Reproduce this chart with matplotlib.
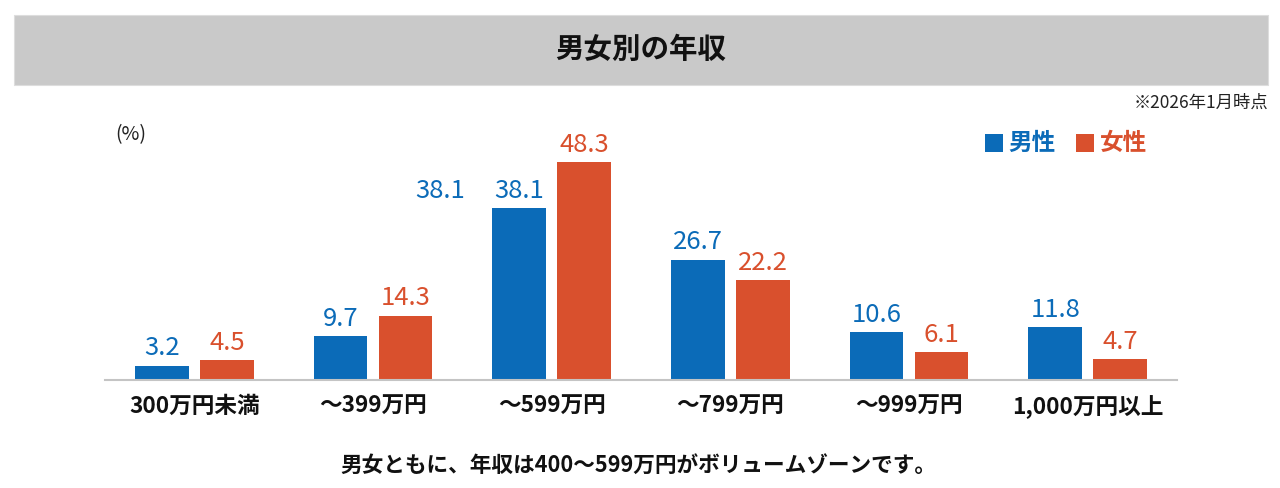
import matplotlib
matplotlib.use("Agg")
import matplotlib.pyplot as plt
from matplotlib.patches import Rectangle
import numpy as np

plt.rcParams['font.family'] = ['Noto Sans CJK JP', 'DejaVu Sans']

categories = ["300万円未満", "～399万円", "～599万円", "～799万円", "～999万円", "1,000万円以上"]
male = [3.2, 9.7, 38.1, 26.7, 10.6, 11.8]
female = [4.5, 14.3, 48.3, 22.2, 6.1, 4.7]
stray_value = 38.1  # extra label shown in the original between groups 2 and 3

title = "男女別の年収"
note = "※2026年1月時点"
unit = "(%)"
footer = "男女ともに、年収は400〜599万円がボリュームゾーンです。"
series_names = ["男性", "女性"]

BLUE = "#0b6bb8"
ORANGE = "#d9502d"

W, H = 1280, 488
fig = plt.figure(figsize=(W / 100, H / 100), dpi=100)
fig.patch.set_facecolor("white")

def fx(px):
    return px / W

def fy(py):
    return 1 - py / H

# title band
fig.patches.append(Rectangle((fx(14), fy(85)), fx(1268) - fx(14), fy(15) - fy(85),
                             transform=fig.transFigure, facecolor="#c9c9c9",
                             edgecolor="#dddddd", lw=0.8, zorder=0))
fig.text(fx(641), fy(50), title, ha="center", va="center", fontsize=20.5,
         fontweight="bold", color="#111111")
fig.text(fx(1268), fy(103), note, ha="right", va="center", fontsize=12.5, color="#222222")
fig.text(fx(131), fy(135), unit, ha="center", va="center", fontsize=14, color="#222222")
fig.text(fx(638), fy(465), footer, ha="center", va="center", fontsize=15.6,
         fontweight="bold", color="#111111")

# legend
for sx, tx, name, col in [(985, 1008, series_names[0], BLUE), (1076, 1100, series_names[1], ORANGE)]:
    fig.patches.append(Rectangle((fx(sx), fy(152)), fx(18), 18 / H,
                                 transform=fig.transFigure, facecolor=col, edgecolor="none"))
    fig.text(fx(tx), fy(143), name, ha="left", va="center", fontsize=17,
             fontweight="bold", color=col)

ax = fig.add_axes([fx(105), 108 / H, (1177 - 105) / W, 225.5 / H])
x = np.arange(len(categories))
bw = 0.302
off = 0.182
ax.bar(x - off, male, bw, color=BLUE, zorder=2)
ax.bar(x + off, female, bw, color=ORANGE, zorder=2)

LFS = 18.5
for xi, v in zip(x, male):
    ax.annotate(f"{v}", (xi - off, v), xytext=(0, 3), textcoords="offset points",
                ha="center", va="bottom", fontsize=LFS, color=BLUE)
for xi, v in zip(x, female):
    ax.annotate(f"{v}", (xi + off, v), xytext=(0, 3), textcoords="offset points",
                ha="center", va="bottom", fontsize=LFS, color=ORANGE)
# stray duplicate label present in the original chart
ax.annotate(f"{stray_value}", (2 - 0.626, male[2]), xytext=(0, 3), textcoords="offset points",
            ha="center", va="bottom", fontsize=LFS, color=BLUE)

ax.set_xlim(-0.5, 5.5)
ax.set_ylim(0, 50)
ax.set_xticks(x)
ax.set_xticklabels(categories, fontsize=16.3, fontweight="bold", color="#111111")
ax.tick_params(axis="x", length=0, pad=11)
ax.set_yticks([])
for s in ["top", "right", "left"]:
    ax.spines[s].set_visible(False)
ax.spines["bottom"].set_color("#c4c4c4")
ax.spines["bottom"].set_linewidth(1.5)
ax.set_facecolor("none")

fig.savefig("out.png", dpi=100)
